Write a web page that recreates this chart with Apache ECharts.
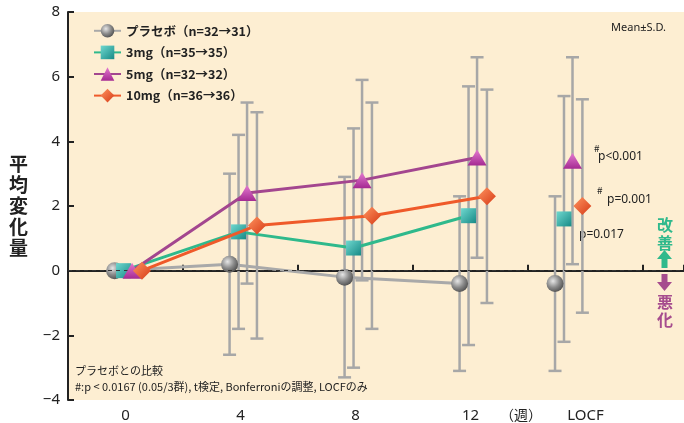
<!DOCTYPE html>
<html><head><meta charset="utf-8">
<script src="https://cdn.jsdelivr.net/npm/echarts@6/dist/echarts.min.js"></script>
<style>html,body{margin:0;padding:0;background:#fff}#c{width:684px;height:423px}</style>
</head><body><div id="c"></div>
<script>
// ---- data ----
const categories = ['0', '4', '8', '12', 'LOCF'];
const seriesNames = ['プラセボ（n=32→31）', '3mg（n=35→35）', '5mg（n=32→32）', '10mg（n=36→36）'];
const placeboMean = [0, 0.2, -0.2, -0.4, -0.4];
const placeboSD   = [null, 2.8, 3.1, 2.7, 2.7];
const mg3Mean     = [0, 1.2, 0.7, 1.7, 1.6];
const mg3SD       = [null, 3.0, 3.7, 4.0, 3.8];
const mg5Mean     = [0, 2.4, 2.8, 3.5, 3.4];
const mg5SD       = [null, 2.8, 3.1, 3.1, 3.2];
const mg10Mean    = [0, 1.4, 1.7, 2.3, 2.0];
const mg10SD      = [null, 3.5, 3.5, 3.3, 3.3];
const yMin = -4, yMax = 8, yStep = 2;

// ---- layout (axis units) ----
const catPos = [0.5, 1.5, 2.5, 3.5, 4.33];
const seriesOffset = [-0.095, -0.017, 0.057, 0.143];
const xMax = 616 / 115;
const locfIndex = 4;

const means = [placeboMean, mg3Mean, mg5Mean, mg10Mean];
const sds = [placeboSD, mg3SD, mg5SD, mg10SD];
const lineColors = ['#a9a9a9', '#2fb98c', '#a3468f', '#ef5a2a'];
const symbols = ['circle', 'rect', 'triangle', 'diamond'];
const symbolSizes = [17, 15, [19, 16], [18, 18]];
const markerColors = [
  {type:'radial', x:0.38, y:0.35, r:0.7, colorStops:[{offset:0,color:'#e6e6e6'},{offset:0.55,color:'#8a8a8a'},{offset:1,color:'#4e4e4e'}]},
  {type:'linear', x:0, y:0, x2:1, y2:1, colorStops:[{offset:0,color:'#6fd8cf'},{offset:1,color:'#178a86'}]},
  {type:'linear', x:0, y:0, x2:0, y2:1, colorStops:[{offset:0,color:'#e47ad0'},{offset:1,color:'#a52a92'}]},
  {type:'linear', x:0, y:0, x2:1, y2:1, colorStops:[{offset:0,color:'#ff9460'},{offset:1,color:'#d63a16'}]}
];

function errRender(params, api) {
  const x = api.value(0), lo = api.value(1), hi = api.value(2);
  const p1 = api.coord([x, hi]), p2 = api.coord([x, lo]);
  const w = 6.5;
  const style = {stroke: '#a7a7a7', lineWidth: 2.5, fill: null};
  return {type: 'group', children: [
    {type: 'line', shape: {x1: p1[0], y1: p1[1], x2: p2[0], y2: p2[1]}, style: style},
    {type: 'line', shape: {x1: p1[0] - w, y1: p1[1], x2: p1[0] + w, y2: p1[1]}, style: style},
    {type: 'line', shape: {x1: p2[0] - w, y1: p2[1], x2: p2[0] + w, y2: p2[1]}, style: style}
  ]};
}

const series = [];
means.forEach((m, s) => {
  const errData = [];
  m.forEach((v, i) => {
    if (sds[s][i] != null) errData.push([catPos[i] + seriesOffset[s], v - sds[s][i], v + sds[s][i]]);
  });
  series.push({
    type: 'custom', name: 'err' + s, renderItem: errRender, data: errData,
    encode: {x: 0, y: [1, 2]}, z: 1, silent: true
  });
});
means.forEach((m, s) => {
  const pts = m.map((v, i) => [catPos[i] + seriesOffset[s], v]);
  const ser = {
    type: 'line', name: seriesNames[s],
    data: pts.slice(0, locfIndex),
    symbol: symbols[s], symbolSize: symbolSizes[s], showAllSymbol: true,
    lineStyle: {color: lineColors[s], width: 3},
    itemStyle: {color: markerColors[s], borderWidth: 0},
    z: 3 + s
  };
  if (s === 0) {
    ser.markLine = {silent: true, symbol: 'none', label: {show: false},
      lineStyle: {color: '#333', type: [4, 4], width: 1}, data: [{yAxis: 0}]};
  }
  series.push(ser);
  series.push({
    type: 'scatter', name: 'locf' + s, data: pts.slice(locfIndex),
    symbol: symbols[s], symbolSize: symbolSizes[s],
    itemStyle: {color: markerColors[s], opacity: 1}, z: 3 + s
  });
});

const chart = echarts.init(document.getElementById('c'));
const txt = {fontFamily: 'Noto Sans CJK JP', fill: '#222'};
chart.setOption({
  animation: false,
  backgroundColor: '#fff',
  textStyle: {fontFamily: 'Noto Sans CJK JP'},
  grid: [
    {left: 68, top: 12, right: 0, bottom: 23, show: true, backgroundColor: '#fdeed2', borderWidth: 0},
    {left: 68, top: 12, width: 575, bottom: 23, show: false}
  ],
  legend: {
    data: seriesNames, orient: 'vertical', left: 88, top: 19,
    itemWidth: 27, itemHeight: 17, itemGap: 8,
    textStyle: {fontSize: 12.5, fontWeight: 'bold', color: '#222', fontFamily: 'Noto Sans CJK JP'}
  },
  xAxis: [
    {type: 'value', gridIndex: 0, min: 0, max: xMax, interval: 1,
      axisLine: {lineStyle: {color: '#222', width: 2}},
      axisTick: {inside: true, length: 6, lineStyle: {color: '#222', width: 2}},
      axisLabel: {show: false}, splitLine: {show: false}},
    {type: 'category', gridIndex: 1, data: categories, boundaryGap: true,
      axisLine: {show: false}, axisTick: {show: false},
      axisLabel: {fontSize: 15, color: '#222', margin: 10, fontFamily: 'Liberation Sans Narrow, Noto Sans'}}
  ],
  yAxis: [
    {type: 'value', gridIndex: 0, min: yMin, max: yMax, interval: yStep,
      axisLine: {show: true, lineStyle: {color: '#222', width: 2}},
      axisTick: {show: true, inside: true, length: 6, lineStyle: {color: '#222', width: 2}},
      splitLine: {show: false},
      axisLabel: {fontSize: 15, color: '#222', margin: 8, fontFamily: 'Liberation Sans Narrow, Noto Sans',
        formatter: v => v < 0 ? '\u2212' + Math.abs(v) : String(v)},
      name: '平\n均\n変\n化\n量', nameLocation: 'middle', nameRotate: 0, nameGap: 40,
      nameTextStyle: {fontSize: 19, fontWeight: 'bold', lineHeight: 21, color: '#222', fontFamily: 'Noto Sans CJK JP'}},
    {type: 'value', gridIndex: 1, min: yMin, max: yMax, show: false}
  ],
  series: series,
  graphic: [
    {type: 'text', right: 18, top: 22, style: Object.assign({}, txt, {text: 'Mean±S.D.', fontSize: 11, fontFamily: 'Liberation Sans Narrow, Noto Sans'})},
    {type: 'text', x: 594, y: 143, style: Object.assign({}, txt, {text: '#', fontSize: 10})},
    {type: 'text', x: 598, y: 151, style: Object.assign({}, txt, {text: 'p<0.001', fontSize: 12, fontFamily: 'Liberation Sans Narrow, Noto Sans'})},
    {type: 'text', x: 597, y: 185, style: Object.assign({}, txt, {text: '#', fontSize: 10})},
    {type: 'text', x: 607, y: 194, style: Object.assign({}, txt, {text: 'p=0.001', fontSize: 12, fontFamily: 'Liberation Sans Narrow, Noto Sans'})},
    {type: 'text', x: 579, y: 229, style: Object.assign({}, txt, {text: 'p=0.017', fontSize: 12, fontFamily: 'Liberation Sans Narrow, Noto Sans'})},
    {type: 'text', x: 657, y: 216, style: {text: '改\n善', fontSize: 16, lineHeight: 18, fontWeight: 'bold', fill: '#2fb98c', fontFamily: 'Noto Sans CJK JP'}},
    {type: 'polygon', shape: {points: [[664.5, 250], [672, 259], [667.5, 259], [667.5, 268], [661.5, 268], [661.5, 259], [657, 259]]}, style: {fill: '#2fb98c'}},
    {type: 'polygon', shape: {points: [[661.5, 274], [667.5, 274], [667.5, 282], [672, 282], [664.5, 291], [657, 282], [661.5, 282]]}, style: {fill: '#a64c8e'}},
    {type: 'text', x: 657, y: 293, style: {text: '悪\n化', fontSize: 16, lineHeight: 18, fontWeight: 'bold', fill: '#a64c8e', fontFamily: 'Noto Sans CJK JP'}},
    {type: 'text', x: 75, y: 365, style: Object.assign({}, txt, {text: 'プラセボとの比較', fontSize: 11})},
    {type: 'text', x: 75, y: 381, style: Object.assign({}, txt, {text: '#:p < 0.0167 (0.05/3群), t検定, Bonferroniの調整, LOCFのみ', fontSize: 11})},
    {type: 'text', x: 500, y: 408, style: Object.assign({}, txt, {text: '（週）', fontSize: 14})}
  ]
});
</script>
</body></html>
